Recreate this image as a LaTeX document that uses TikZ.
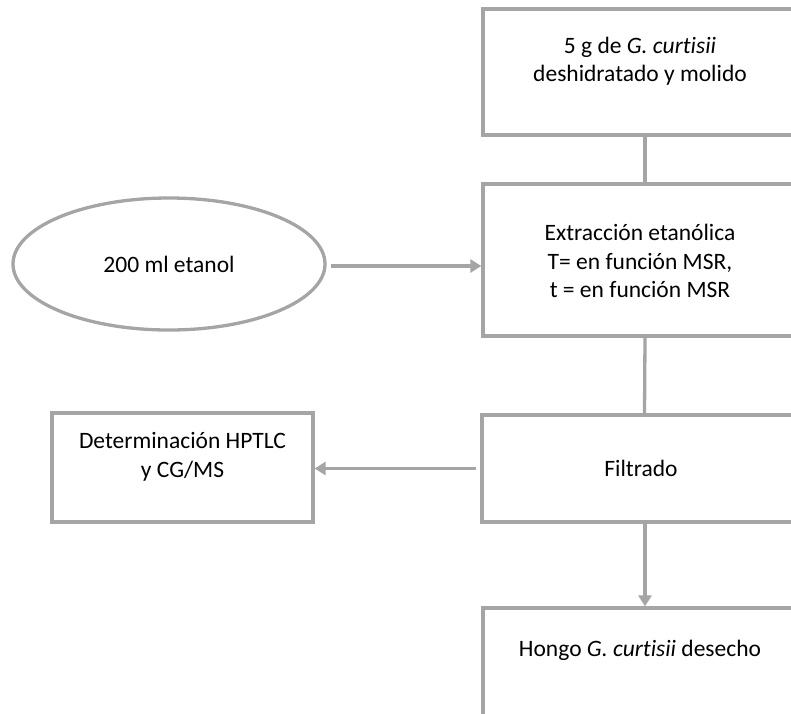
\documentclass[tikz,border=0pt]{standalone}
\usepackage{fontspec}
\setmainfont{Carlito}[Ligatures=NoCommon]
\usetikzlibrary{arrows.meta,shapes.geometric}
\definecolor{lgray}{HTML}{A5A5A5}
\begin{document}
\begin{tikzpicture}[x=1pt,y=-1pt,
  box/.style={draw=lgray,line width=3.3pt,rectangle,inner sep=0pt},
  oval/.style={draw=lgray,line width=3.3pt,ellipse,inner sep=0pt},
  txt/.style={align=center,font=\fontsize{23.5}{28.5}\selectfont,inner sep=0pt},
  conn/.style={draw=lgray,line width=3.3pt},
  arr/.style={conn,-{Triangle[length=11pt,width=13pt]}}]
\useasboundingbox (0,0) rectangle (791,713);
\clip (0,0) rectangle (791,713);
% boxes
\node[box,minimum width=314pt,minimum height=126pt] (b1) at (640,72) {};
\node[box,minimum width=314pt,minimum height=152pt] (b2) at (640,260) {};
\node[box,minimum width=315pt,minimum height=107pt] (b3) at (639.5,468.5) {};
\node[box,minimum width=314pt,minimum height=140pt] (b4) at (640,678) {};
\node[box,minimum width=261pt,minimum height=109pt] (hp) at (182.5,467.5) {};
\node[oval,minimum width=312pt,minimum height=132pt] (e) at (169,264) {};
% texts
\node[txt] (t1) at (640,61) {5 g de \textit{G. curtisii}\\deshidratado y molido};
\node[txt] (t2) at (640,261) {Extracción etanólica\\T= en función MSR,\\t = en función MSR};
\node[txt] (t3) at (641,468) {Filtrado};
\node[txt] (t4) at (640,650) {Hongo \textit{G. curtisii} desecho};
\node[txt] (t5) at (182.5,457) {Determinación HPTLC\\y CG/MS};
\node[txt] (t6) at (169,264) {200 ml etanol};
% connectors
\coordinate (c1) at ([xshift=5pt]b1.south);
\coordinate (c2) at ([xshift=5pt]b2.north);
\coordinate (c3) at ([xshift=5pt]b2.south);
\coordinate (c4) at ([xshift=5pt]b3.north);
\coordinate (c5) at ([xshift=5.5pt]b3.south);
\coordinate (c6) at ([xshift=5pt]b4.north);
\draw[conn] (c1) -- (c2);
\draw[conn] (c3) -- (c4);
\draw[arr] (c5) -- (c6);
\coordinate (ea) at ([xshift=4pt,yshift=-2pt]e.east);
\draw[arr] (ea) -- (ea -| b2.west);
\coordinate (fa) at ([xshift=-4pt]b3.west);
\draw[arr] (fa) -- (fa -| hp.east);
\end{tikzpicture}
\end{document}
